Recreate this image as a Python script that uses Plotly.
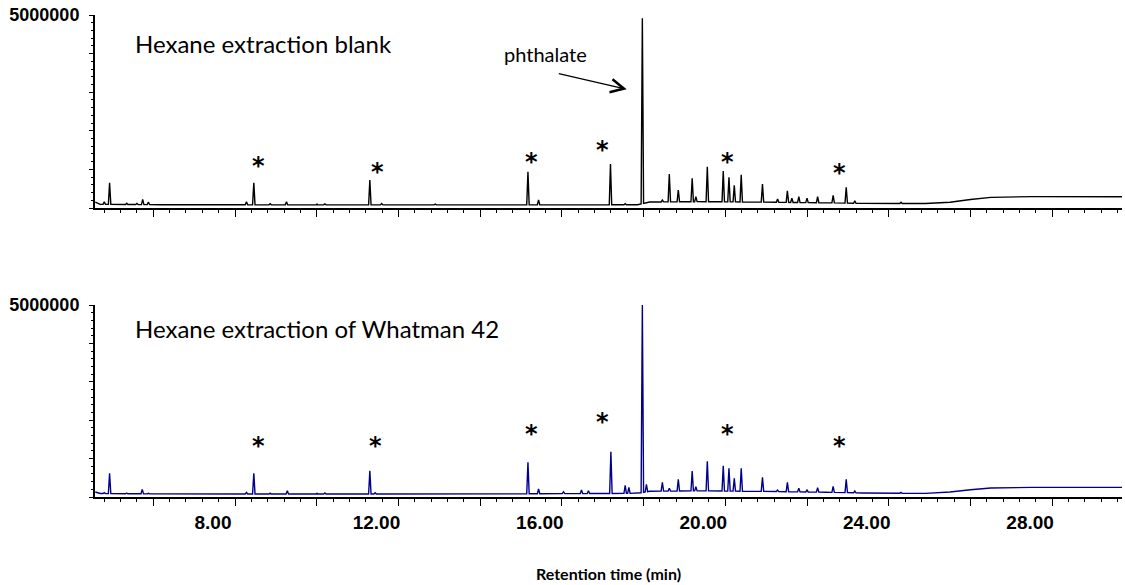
import numpy as np
import plotly.graph_objects as go

# ---------------------------------------------------------------
# GC-MS total ion chromatograms (retention time in min, counts)
# ---------------------------------------------------------------

# Hexane extraction blank: baseline drift and resolved peaks
blank_base_t = [4.58, 4.70, 6.20, 10.0, 14.0, 17.85, 18.15, 19.40, 21.05, 22.45, 23.35, 24.90, 25.50, 26.00, 26.50, 27.50, 28.50, 29.71]
blank_base_y = [150e3, 95e3, 85e3, 80e3, 80e3, 85e3, 155e3, 165e3, 150e3, 135e3, 120e3, 115e3, 150e3, 220e3, 275e3, 295e3, 298e3, 292e3]

blank_peak_t = [4.80, 4.93, 5.35, 5.60, 5.74, 5.88, 8.28, 8.46, 8.86, 9.26, 10.00, 10.20, 11.30, 11.59, 12.90,
                15.17, 15.43, 17.19, 17.55, 17.97, 18.46, 18.63, 18.85, 19.19, 19.28, 19.56, 19.95, 20.09,
                20.22, 20.39, 20.91, 21.28, 21.52, 21.63, 21.80, 22.00, 22.26, 22.64, 22.96, 23.17, 24.30]
blank_peak_y = [163e3, 655e3, 125e3, 120e3, 225e3, 155e3, 163e3, 650e3, 110e3, 163e3, 110e3, 105e3, 725e3, 115e3, 100e3,
                940e3, 207e3, 1140e3, 110e3, 4915e3, 207e3, 880e3, 466e3, 770e3, 293e3, 1070e3, 959e3, 795e3,
                588e3, 863e3, 622e3, 233e3, 448e3, 251e3, 293e3, 251e3, 293e3, 329e3, 536e3, 189e3, 150e3]

# Hexane extraction of Whatman 42 filter paper
paper_base_t = [4.58, 4.70, 6.20, 10.0, 14.0, 17.85, 18.15, 19.40, 21.05, 22.45, 23.35, 24.90, 25.50, 26.00, 26.50, 27.50, 28.50, 29.71]
paper_base_y = [130e3, 90e3, 80e3, 78e3, 78e3, 95e3, 150e3, 160e3, 145e3, 125e3, 105e3, 95e3, 130e3, 190e3, 235e3, 250e3, 252e3, 250e3]

paper_peak_t = [4.80, 4.93, 5.35, 5.60, 5.73, 5.88, 8.28, 8.46, 8.86, 9.28, 10.00, 10.20, 11.30, 11.43,
                15.17, 15.43, 16.04, 16.48, 16.65, 17.20, 17.55, 17.64, 17.97, 18.07, 18.46, 18.63, 18.85,
                19.19, 19.28, 19.56, 19.95, 20.09, 20.22, 20.39, 20.91, 21.28, 21.52, 21.80, 22.00, 22.26,
                22.64, 22.96, 23.17, 24.30]
paper_peak_y = [112e3, 617e3, 100e3, 100e3, 200e3, 96e3, 122e3, 617e3, 100e3, 164e3, 105e3, 105e3, 685e3, 110e3,
                904e3, 208e3, 138e3, 182e3, 164e3, 1180e3, 305e3, 253e3, 5000e3, 331e3, 383e3, 227e3, 461e3,
                677e3, 268e3, 930e3, 815e3, 747e3, 487e3, 747e3, 513e3, 182e3, 383e3, 227e3, 182e3, 242e3,
                279e3, 461e3, 156e3, 120e3]

x_tick_vals = [6, 8, 10, 12, 14, 16, 18, 20, 22, 24, 26, 28]
x_tick_text = ["", "8.00", "", "12.00", "", "16.00", "", "20.00", "", "24.00", "", "28.00"]
y_tick_vals = [0, 1e6, 2e6, 3e6, 4e6, 5e6]
y_tick_text = ["", "", "", "", "", "5000000"]

# ---------------------------------------------------------------


def trace_points(base_t, base_y, peak_t, peak_y, half_width=0.03):
    """Merge the baseline with narrow peaks (foot - apex - foot)."""
    t = list(base_t)
    y = list(base_y)
    for pt, pv in zip(peak_t, peak_y):
        for d in (-half_width, half_width):
            t.append(pt + d)
            y.append(float(np.interp(pt + d, base_t, base_y)))
        t.append(pt)
        y.append(pv)
    order = np.argsort(t)
    return np.asarray(t)[order], np.asarray(y)[order]


bt, by = trace_points(blank_base_t, blank_base_y, blank_peak_t, blank_peak_y)
wt, wy = trace_points(paper_base_t, paper_base_y, paper_peak_t, paper_peak_y)

W, H = 1125, 585
ML, MR, MT, MB = 95, 3, 15, 88
PW, PH = W - ML - MR, H - MT - MB


def px(x):
    return (x - ML) / PW


def py(y):
    return (H - MB - y) / PH


fig = go.Figure()
fig.add_trace(go.Scatter(x=bt, y=by, mode="lines", line=dict(color="#000000", width=1.4),
                         xaxis="x2", yaxis="y2", hoverinfo="skip", showlegend=False))
fig.add_trace(go.Scatter(x=wt, y=wy, mode="lines", line=dict(color="#00008b", width=1.4),
                         xaxis="x", yaxis="y", hoverinfo="skip", showlegend=False))

x_range = [4.573, 29.71]
xcommon = dict(range=x_range, showline=True, linecolor="black", linewidth=2, mirror=False,
               ticks="outside", ticklen=7, tickwidth=1.3, tickcolor="black",
               tickvals=x_tick_vals, ticktext=x_tick_text,
               minor=dict(ticks="outside", ticklen=3, tickwidth=1, tickcolor="black", dtick=0.4, tick0=0),
               showgrid=False, zeroline=False)
ycommon = dict(range=[0, 5e6], showline=True, linecolor="black", linewidth=2,
               ticks="outside", ticklen=4, tickwidth=1.2, tickcolor="black",
               tickvals=y_tick_vals, ticktext=y_tick_text,
               tickfont=dict(family="Liberation Sans", size=18, color="black", weight="bold"),
               ticklabelstandoff=6,
               minor=dict(ticks="outside", ticklen=2, tickwidth=1, tickcolor="black", dtick=2e5),
               showgrid=False, zeroline=False)

top_lo = 1 - (208 - MT) / PH
bot_hi = (H - MB - 305) / PH

fig.update_layout(
    width=W, height=H,
    margin=dict(l=ML, r=MR, t=MT, b=MB),
    paper_bgcolor="white", plot_bgcolor="white",
    xaxis=dict(**xcommon, anchor="y", domain=[0, 1],
               tickfont=dict(family="Liberation Sans", size=19, color="black", weight="bold"),
               ticklabelshift=-22),
    xaxis2=dict(**xcommon, anchor="y2", domain=[0, 1], matches="x", showticklabels=False),
    yaxis=dict(**ycommon, anchor="x", domain=[0, bot_hi]),
    yaxis2=dict(**ycommon, anchor="x2", domain=[top_lo, 1]),
)

ann = []
ann.append(dict(text="Hexane extraction blank", xref="paper", yref="paper", x=px(133), y=py(43),
                xanchor="left", yanchor="middle", showarrow=False,
                font=dict(family="Lato", size=24, color="black")))
ann.append(dict(text="Hexane extraction of Whatman 42", xref="paper", yref="paper", x=px(133), y=py(328),
                xanchor="left", yanchor="middle", showarrow=False,
                font=dict(family="Lato", size=24, color="black")))
ann.append(dict(text="phthalate", xref="paper", yref="paper", x=px(545), y=py(54),
                xanchor="center", yanchor="middle", showarrow=False,
                font=dict(family="Lato", size=20, color="black")))
ann.append(dict(text="", xref="paper", yref="paper", x=px(626.7), y=py(89.3),
                ax=-69.4, ay=-16, axref="pixel", ayref="pixel", showarrow=True,
                arrowhead=5, arrowsize=2, arrowwidth=1.3, arrowcolor="black", standoff=0))
ann.append(dict(text="<b>Retention time (min)</b>", xref="paper", yref="paper", x=px(608), y=py(573),
                xanchor="center", yanchor="middle", showarrow=False,
                font=dict(family="Lato", size=16, color="black")))

# asterisks marking the same compounds in both runs (pixel centres)
star_top = [(258, 163), (377, 169), (531, 159), (602, 147), (727, 159), (839, 170)]
star_bot = [(258, 443), (375, 443), (531, 431), (602, 419), (727, 431), (839, 443)]
for sx, sy in star_top + star_bot:
    ann.append(dict(text="*", xref="paper", yref="paper", x=px(sx), y=py(sy),
                    xanchor="center", yanchor="middle", showarrow=False, yshift=-3,
                    font=dict(family="DejaVu Sans", size=24, color="black", weight="bold")))

fig.update_layout(annotations=ann)
fig.write_html("out.html")
